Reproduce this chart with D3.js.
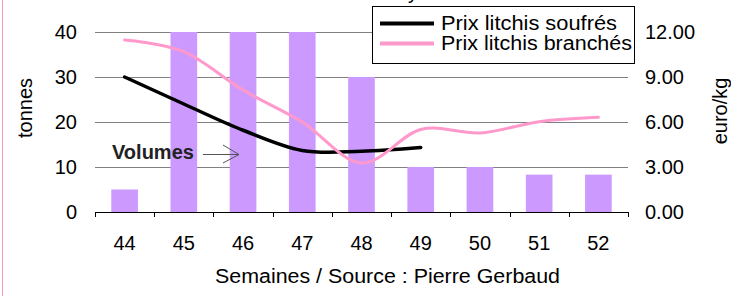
<!DOCTYPE html>
<html>
  <head>
    <title>Litchis</title>
    <style type="text/css">
        body{
            margin: 0;
            background: #ffffff;
        }
        svg text{
            font-family: "Liberation Sans", Arial, sans-serif;
            font-size: 20px;
            fill: #000000;
        }
        .grid line{
            stroke: #808080;
            stroke-width: 1px;
        }
    </style>
  </head>
  <body>
    <div id="chart"></div>

    <script src="https://cdn.jsdelivr.net/npm/d3@7"></script>
    <script>

        //  Data
        var weeks = ["44", "45", "46", "47", "48", "49", "50", "51", "52"];
        var volumes = [5, 40, 40, 40, 30, 10, 10, 8.3, 8.3];
        var prixSoufres = [9.0, 7.2, 5.45, 4.1, 4.05, 4.3, null, null, null];
        var prixBranches = [11.47, 10.69, 8.13, 6.0, 3.27, 5.5, 5.27, 6.02, 6.31];
        var leftTicks = [0, 10, 20, 30, 40];
        var rightTicks = [0, 3, 6, 9, 12];
        var seriesNames = ["Prix litchis soufrés", "Prix litchis branchés"];

        var width = 731, height = 302;
        var plotLeft = 95, plotRight = 628, plotTop = 32, plotBottom = 212;

        var svg = d3.select("#chart").append("svg")
            .attr("width", width)
            .attr("height", height);

        var x = d3.scaleBand().domain(weeks).range([plotLeft, plotRight])
            .paddingInner(0.55).paddingOuter(0.275);
        var yLeft = d3.scaleLinear().domain([0, 40]).range([plotBottom, plotTop]);
        var yRight = d3.scaleLinear().domain([0, 12]).range([plotBottom, plotTop]);
        var cx = function (w) { return x(w) + x.bandwidth() / 2; };

        //  pink frame edge on the left
        svg.append("line")
            .attr("x1", 2.5).attr("x2", 2.5).attr("y1", 0).attr("y2", 296)
            .attr("stroke", "#f0a0ac").attr("stroke-width", 1);

        //  cut off title fragment
        svg.append("text").attr("x", 408).attr("y", -1).text("y");

        //  grid lines
        svg.append("g").attr("class", "grid")
            .selectAll("line")
            .data(leftTicks.filter(function (d) { return d > 0; }))
            .enter().append("line")
            .attr("x1", plotLeft).attr("x2", plotRight)
            .attr("y1", function (d) { return Math.round(yLeft(d)) + 0.5; })
            .attr("y2", function (d) { return Math.round(yLeft(d)) + 0.5; });

        //  bars
        svg.append("g").selectAll("rect")
            .data(volumes)
            .enter().append("rect")
            .attr("x", function (d, i) { return x(weeks[i]); })
            .attr("width", x.bandwidth())
            .attr("y", function (d) { return yLeft(d); })
            .attr("height", function (d) { return plotBottom - yLeft(d); })
            .attr("fill", "#cc99ff");

        //  bottom axis with ticks between categories
        var xAxis = svg.append("g");
        xAxis.append("line")
            .attr("x1", plotLeft).attr("x2", plotRight + 0.5)
            .attr("y1", plotBottom + 0.5).attr("y2", plotBottom + 0.5)
            .attr("stroke", "#000");
        var step = x.step();
        xAxis.selectAll(".tk")
            .data(d3.range(weeks.length + 1))
            .enter().append("line")
            .attr("class", "tk")
            .attr("x1", function (i) { return Math.round(plotLeft + i * step) + 0.5; })
            .attr("x2", function (i) { return Math.round(plotLeft + i * step) + 0.5; })
            .attr("y1", plotBottom).attr("y2", plotBottom + 5)
            .attr("stroke", "#000");
        xAxis.selectAll("text")
            .data(weeks)
            .enter().append("text")
            .attr("x", function (d) { return cx(d); })
            .attr("y", 250)
            .attr("text-anchor", "middle")
            .text(function (d) { return d; });

        //  left and right tick labels
        svg.append("g").selectAll("text")
            .data(leftTicks)
            .enter().append("text")
            .attr("x", 77)
            .attr("y", function (d) { return yLeft(d); })
            .attr("dy", "0.35em")
            .attr("text-anchor", "end")
            .text(function (d) { return d; });
        svg.append("g").selectAll("text")
            .data(rightTicks)
            .enter().append("text")
            .attr("x", 645)
            .attr("y", function (d) { return yRight(d); })
            .attr("dy", "0.35em")
            .text(function (d) { return d3.format(".2f")(d); });

        //  axis titles
        svg.append("text")
            .attr("transform", "translate(32,108) rotate(-90)")
            .attr("text-anchor", "middle")
            .text("tonnes");
        svg.append("text")
            .attr("transform", "translate(727,111) rotate(-90)")
            .attr("text-anchor", "middle")
            .text("euro/kg");
        svg.append("text")
            .attr("x", 215).attr("y", 283)
            .attr("textLength", 345).attr("lengthAdjust", "spacingAndGlyphs")
            .text("Semaines / Source : Pierre Gerbaud");

        //  price lines
        var line = d3.line()
            .defined(function (d) { return d != null; })
            .x(function (d, i) { return cx(weeks[i]); })
            .y(function (d) { return yRight(d); })
            .curve(d3.curveCatmullRom.alpha(0));

        svg.append("path")
            .datum(prixSoufres)
            .attr("d", line)
            .attr("fill", "none")
            .attr("stroke", "#000")
            .attr("stroke-width", 3.5)
            .attr("stroke-linecap", "round");
        svg.append("path")
            .datum(prixBranches)
            .attr("d", line)
            .attr("fill", "none")
            .attr("stroke", "#ff99cc")
            .attr("stroke-width", 3)
            .attr("stroke-linecap", "round");

        //  "Volumes" label with arrow
        svg.append("text")
            .attr("x", 112).attr("y", 159)
            .attr("font-weight", "bold")
            .style("fill", "#222")
            .text("Volumes");
        svg.append("path")
            .attr("d", "M203,154.5H239M223,145L239,154.5L223,163")
            .attr("fill", "none")
            .attr("stroke", "#555")
            .attr("stroke-width", 1);

        //  legend
        var legend = svg.append("g");
        legend.append("rect")
            .attr("x", 372.5).attr("y", 6.5)
            .attr("width", 262).attr("height", 57)
            .attr("fill", "#fff").attr("stroke", "#000");
        var legendColors = ["#000", "#ff99cc"];
        var legendLengths = [176, 191];
        legend.selectAll(".lg")
            .data(seriesNames)
            .enter().append("line")
            .attr("class", "lg")
            .attr("x1", 380).attr("x2", 434)
            .attr("y1", function (d, i) { return 23.5 + i * 20; })
            .attr("y2", function (d, i) { return 23.5 + i * 20; })
            .attr("stroke", function (d, i) { return legendColors[i]; })
            .attr("stroke-width", 4);
        legend.selectAll("text")
            .data(seriesNames)
            .enter().append("text")
            .attr("x", 441)
            .attr("y", function (d, i) { return 29.5 + i * 20; })
            .attr("textLength", function (d, i) { return legendLengths[i]; })
            .attr("lengthAdjust", "spacingAndGlyphs")
            .text(function (d) { return d; });

    </script>
  </body>
</html>
